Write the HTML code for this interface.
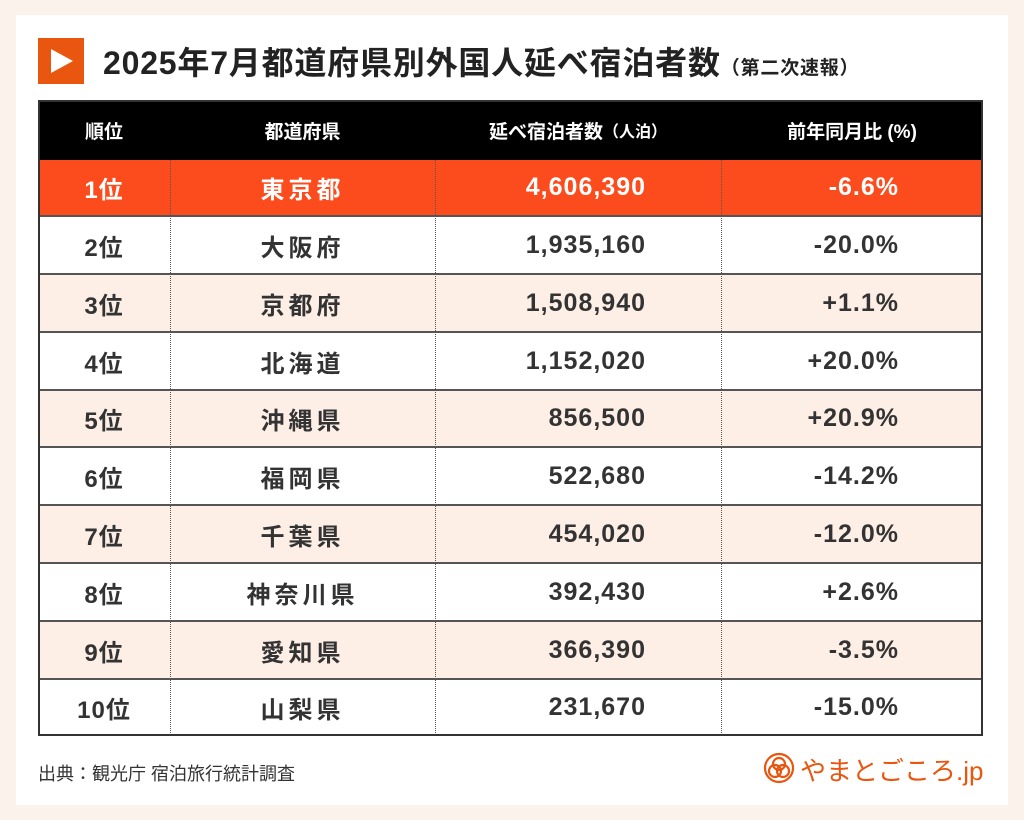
<!DOCTYPE html>
<html><head><meta charset="utf-8"><style>
body{margin:0;width:1024px;height:820px;background:#fcf2ec;position:relative;overflow:hidden;font-family:"Liberation Sans","Noto Sans CJK JP",sans-serif;}
.card{position:absolute;left:16px;top:15px;width:992px;height:790px;background:#fff;}
.abs{position:absolute;}
.row{position:absolute;left:38px;width:945px;border-bottom:2px solid #555;box-sizing:border-box;}
.c{position:absolute;top:0;height:100%;display:flex;align-items:center;font-weight:bold;font-size:25px;color:#333;letter-spacing:1px;}
.vd{position:absolute;top:160px;height:575px;border-left:1.5px dotted #555;}
</style></head><body>
<div class="card"></div>
<div class="abs" style="left:38px;top:38px;width:46px;height:46px;background:#e8560f;"></div>
<div class="abs" style="left:51px;top:49px;width:0;height:0;border-left:22px solid #fff;border-top:12px solid transparent;border-bottom:12px solid transparent;"></div>
<div class="abs" style="left:103px;top:38px;font-size:32px;font-weight:bold;color:#222;white-space:nowrap;letter-spacing:0.8px">2025年7月都道府県別外国人延べ宿泊者数<span style="font-size:19px;">（第二次速報）</span></div>
<div class="row" style="top:100px;height:60px;background:#000;border:none;">
 <div class="c" style="left:0;width:132px;justify-content:center;color:#fff;font-size:19px;letter-spacing:0">順位</div>
 <div class="c" style="left:132px;width:265px;justify-content:center;color:#fff;font-size:19px;letter-spacing:0">都道府県</div>
 <div class="c" style="left:397px;width:286px;justify-content:center;color:#fff;font-size:19px;letter-spacing:0">延べ宿泊者数<span style="font-size:16px">（人泊）</span></div>
 <div class="c" style="left:683px;width:262px;justify-content:center;color:#fff;font-size:19px;letter-spacing:0">前年同月比 (%)</div>
</div>
<div id="rows"></div>
<script>
var d=[["1位","東京都","4,606,390","-6.6%"],["2位","大阪府","1,935,160","-20.0%"],["3位","京都府","1,508,940","+1.1%"],["4位","北海道","1,152,020","+20.0%"],["5位","沖縄県","856,500","+20.9%"],["6位","福岡県","522,680","-14.2%"],["7位","千葉県","454,020","-12.0%"],["8位","神奈川県","392,430","+2.6%"],["9位","愛知県","366,390","-3.5%"],["10位","山梨県","231,670","-15.0%"]];
var t=[160,217,275,333,391,448,506,564,622,680,735],h="";
for(var i=0;i<10;i++){var bg=i==0?"#fc4b1c":(i%2==0?"#fdeee6":"#fff");var col=i==0?"#fff":"#333";
h+='<div class="row" style="top:'+t[i]+'px;height:'+(t[i+1]-t[i])+'px;background:'+bg+';'+(i==9?'border-bottom:none;':'')+'">'+
'<div class="c" style="left:0;width:132px;justify-content:center;color:'+col+';font-size:24px">'+d[i][0]+'</div>'+
'<div class="c" style="left:132px;width:265px;justify-content:center;color:'+col+';letter-spacing:4px;font-size:24px">'+d[i][1]+'</div>'+
'<div class="c" style="left:397px;width:211px;justify-content:flex-end;color:'+col+'">'+d[i][2]+'</div>'+
'<div class="c" style="left:683px;width:178px;justify-content:flex-end;color:'+col+'">'+d[i][3]+'</div></div>';}
document.getElementById("rows").innerHTML=h;
</script>
<div class="vd" style="left:170px"></div>
<div class="vd" style="left:435px"></div>
<div class="vd" style="left:721px"></div>
<div class="abs" style="left:38px;top:100px;width:945px;height:636px;border:2px solid #333;box-sizing:border-box;"></div>
<div class="abs" style="left:38px;top:760px;font-size:18px;color:#333;">出典：観光庁 宿泊旅行統計調査</div>
<svg class="abs" style="left:763px;top:752px" width="32" height="32" viewBox="0 0 32 32" fill="none" stroke="#e8560f" stroke-width="2.2"><circle cx="16" cy="16" r="14"/><circle cx="16" cy="12" r="6"/><circle cx="12" cy="19" r="6"/><circle cx="20" cy="19" r="6"/></svg>
<div class="abs" style="left:800px;top:751px;font-size:26px;color:#e8560f;white-space:nowrap;">やまとごころ.jp</div>
</body></html>
